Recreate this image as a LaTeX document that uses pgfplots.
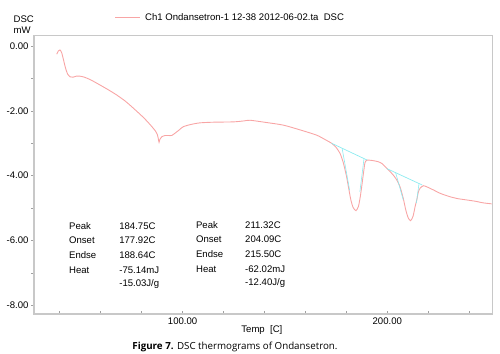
\documentclass[border=0pt]{standalone}
\usepackage{fontspec}
\setmainfont{Liberation Sans}
\newfontfamily\capfont{Open Sans}
\usepackage{pgfplots}
\pgfplotsset{compat=1.18}
\definecolor{dsc}{RGB}{248,165,165}
\definecolor{base}{RGB}{140,235,240}
\definecolor{frame}{RGB}{200,200,200}
\begin{document}
\begin{tikzpicture}
\path[use as bounding box] (-34bp,-40bp) rectangle (466bp,314bp);
\begin{axis}[
  at={(0,0)}, anchor=south west,
  scale only axis, width=458.5bp, height=278.3bp,
  xmin=27.4, xmax=251.4, ymin=-8.27, ymax=0.32,
  xtick={100,200}, minor xtick={40,60,80,120,140,160,180,220,240},
  ytick={0,-2,-4,-6,-8}, minor ytick={-1,-3,-5,-7},
  xtick pos=bottom, ytick pos=left,
  xtick align=inside, ytick align=outside,
  major tick length=3bp, minor tick length=3bp,
  axis line style={frame, line width=1.2pt},
  every tick/.style={frame!80!black, line width=0.6pt},
  /pgf/number format/fixed, /pgf/number format/fixed zerofill,
  /pgf/number format/precision=2, /pgf/number format/assume math mode=true,
  tick label style={font=\fontsize{9.6}{11}\selectfont},
  yticklabel style={xshift=1bp},
  xlabel={Temp\ \ [C]},
  xlabel style={font=\fontsize{9.6}{11}\selectfont, at={(axis description cs:0.497,0)}, anchor=center, yshift=-16bp},
  clip=false,
]
\addplot[dsc, line width=0.9pt, smooth, tension=0.4] coordinates {
(38.5,-0.25) (39.3,-0.15) (40.1,-0.12) (40.9,-0.2) (41.8,-0.42) (42.8,-0.68) (43.8,-0.86) (45.0,-0.95)
(46.5,-0.96) (48.0,-0.93) (49.9,-0.93) (52,-0.96) (55,-1.04) (59.6,-1.2) (64,-1.36) (67.8,-1.51)
(72,-1.7) (76,-1.92) (80.8,-2.2) (83.5,-2.38) (85.7,-2.54) (86.8,-2.63) (87.6,-2.72) (88.1,-2.85)
(88.5,-2.97) (88.9,-2.88) (89.8,-2.8) (91.5,-2.76) (93,-2.76) (94.7,-2.76) (96.5,-2.68) (98.5,-2.58)
(100.3,-2.49) (104,-2.42) (108.5,-2.37) (115,-2.35) (124.8,-2.34) (130,-2.31) (133,-2.29) (141,-2.36)
(149.2,-2.44) (157,-2.58) (165.5,-2.75) (170,-2.9) (172.8,-3.0) (175,-3.13) (176.9,-3.31) (178.5,-3.6)
(180,-4.0) (181,-4.34) (182.2,-4.75) (183.3,-4.98) (184.7,-5.08) (185.9,-4.95) (186.8,-4.65) (187.5,-4.34)
(188.3,-3.95) (189.1,-3.6) (190,-3.52) (190.7,-3.52) (192.5,-3.53) (195.6,-3.57) (197.5,-3.63) (198.9,-3.72)
(201,-3.85) (202.9,-3.98) (204.5,-4.12) (206.2,-4.34) (207.8,-4.7) (209,-5.05) (210.2,-5.3) (211.4,-5.39)
(212.6,-5.25) (213.6,-4.95) (214.4,-4.75) (215.2,-4.5) (216,-4.39) (217.6,-4.31) (219.5,-4.35) (222.5,-4.44)
(226,-4.55) (230.6,-4.65) (234.5,-4.71) (238.8,-4.75) (243,-4.79) (246.9,-4.84) (251,-4.87)
};
\addplot[base, line width=0.7pt] coordinates {(172.8,-3.0) (190.2,-3.52)};
\addplot[base, line width=0.6pt] coordinates {(177.92,-3.15) (181.6,-4.45)};
\addplot[base, line width=0.6pt] coordinates {(188.64,-3.47) (186.6,-4.5)};
\addplot[base, line width=0.7pt] coordinates {(199.7,-3.78) (217.1,-4.29)};
\addplot[base, line width=0.6pt] coordinates {(204.09,-3.91) (207.8,-4.75)};
\addplot[base, line width=0.6pt] coordinates {(215.5,-4.24) (214.2,-4.85)};
\begin{scope}[every node/.style={anchor=west, font=\fontsize{9.6}{11}\selectfont, inner sep=0pt}]
\node at (axis cs:44.5,-5.56) {Peak};
\node at (axis cs:44.5,-6.0) {Onset};
\node at (axis cs:44.5,-6.45) {Endse};
\node at (axis cs:44.5,-6.91) {Heat};
\node at (axis cs:69,-5.56) {184.75C};
\node at (axis cs:69,-6.0) {177.92C};
\node at (axis cs:69,-6.45) {188.64C};
\node at (axis cs:69,-6.91) {-75.14mJ};
\node at (axis cs:69,-7.35) {-15.03J/g};
\node at (axis cs:106.5,-5.53) {Peak};
\node at (axis cs:106.5,-5.97) {Onset};
\node at (axis cs:106.5,-6.42) {Endse};
\node at (axis cs:106.5,-6.88) {Heat};
\node at (axis cs:130.5,-5.53) {211.32C};
\node at (axis cs:130.5,-5.97) {204.09C};
\node at (axis cs:130.5,-6.42) {215.50C};
\node at (axis cs:130.5,-6.88) {-62.02mJ};
\node at (axis cs:130.5,-7.32) {-12.40J/g};
\end{scope}
\end{axis}
\draw[dsc, line width=0.9pt] (81bp,297bp) -- (106bp,297bp);
\node[anchor=west, inner sep=0pt, font=\fontsize{9.6}{11}\selectfont] at (111bp,297bp) {Ch1 Ondansetron-1 12-38 2012-06-02.ta\ \ DSC};
\node[anchor=west, inner sep=0pt, font=\fontsize{9.6}{11}\selectfont] at (-20.5bp,295bp) {DSC};
\node[anchor=west, inner sep=0pt, font=\fontsize{9.6}{11}\selectfont] at (-20.5bp,283.5bp) {mW};
\node[inner sep=0pt, font=\capfont\fontsize{9.8}{11}\selectfont] at (201bp,-33bp) {\textbf{Figure 7.} DSC thermograms of Ondansetron.};
\end{tikzpicture}
\end{document}
